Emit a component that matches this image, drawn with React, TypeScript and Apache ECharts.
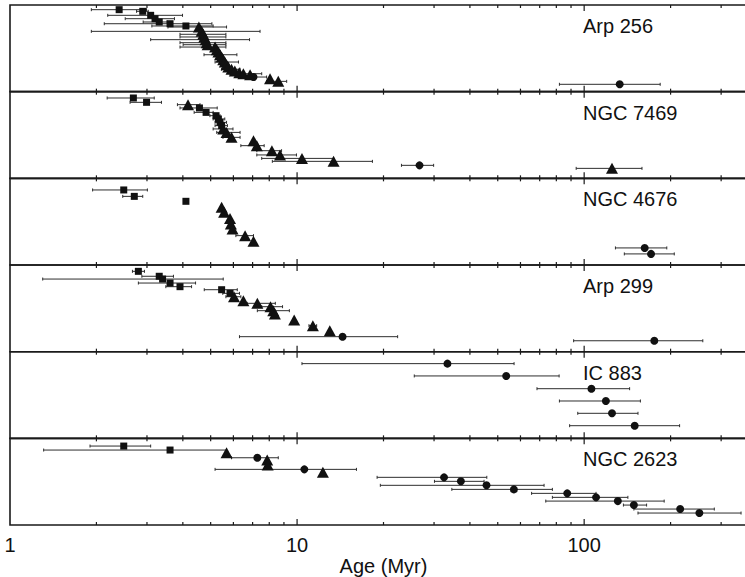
import React, { useEffect, useRef } from 'react';
import * as echarts from 'echarts';

// [age (Myr), error low, error high, row position (0 top .. 100 bottom), marker]
type P = [number, number | null, number | null, number, string];

const arp256: P[] = [
  [2.40, 1.92, 2.99, 5.4, 's'],
  [2.90, 2.76, 3.03, 7.3, 's'],
  [3.09, 2.19, 3.99, 11.9, 's'],
  [3.20, 2.52, 3.74, 15.8, 's'],
  [3.31, 2.91, 3.53, 19.6, 's'],
  [3.61, 2.13, 5.05, 21.6, 's'],
  [4.10, 3.12, 5.10, 24.2, 's'],
  [4.55, 3.55, 5.68, 25.4, 't'],
  [4.65, 1.92, 7.43, 30.4, 't'],
  [4.71, 3.91, 5.65, 33.8, 't'],
  [4.75, 3.91, 5.65, 36.9, 't'],
  [4.80, 3.09, 6.83, 40.0, 't'],
  [4.84, 3.91, 5.65, 43.5, 't'],
  [4.88, 4.01, 5.65, 45.8, 't'],
  [5.18, 3.91, 5.65, 48.5, 't'],
  [5.25, null, null, 51.6, 't'],
  [5.32, null, null, 54.2, 't'],
  [5.39, 4.74, 6.17, 57.4, 't'],
  [5.46, null, null, 60.0, 't'],
  [5.53, null, null, 63.1, 't'],
  [5.60, 5.18, 6.25, 65.8, 't'],
  [5.68, null, null, 68.9, 't'],
  [5.76, null, null, 71.6, 't'],
  [5.91, 5.46, 6.33, 74.2, 't'],
  [6.07, null, null, 76.2, 't'],
  [6.29, null, null, 78.1, 't'],
  [6.50, 5.84, 7.53, 79.3, 't'],
  [6.86, null, null, 80.4, 't'],
  [8.05, null, null, 85.0, 't'],
  [8.60, 7.83, 9.20, 88.1, 't'],
  [7.05, 6.33, 7.83, 83.1, 'c'],
  [133, 82, 184, 91.5, 'c'],
];

const ngc7469: P[] = [
  [2.69, 2.18, 3.18, 7.3, 's'],
  [2.99, 2.62, 3.37, 12.3, 's'],
  [4.17, 3.83, 4.59, 15.0, 't'],
  [4.57, 3.91, 5.27, 18.8, 's'],
  [4.82, 4.38, 5.10, 23.9, 's'],
  [5.22, 4.97, 5.39, 27.7, 's'],
  [5.32, 5.10, 5.60, 31.5, 's'],
  [5.39, 5.18, 5.68, 35.4, 's'],
  [5.46, 5.18, 5.72, 39.2, 's'],
  [5.53, 5.10, 5.98, 43.0, 't'],
  [5.68, 5.25, 6.33, 47.0, 't'],
  [5.91, 5.52, 6.33, 52.7, 't'],
  [7.05, null, null, 56.5, 't'],
  [7.24, 6.37, 7.68, 62.3, 't'],
  [8.17, 7.24, 8.83, 68.1, 't'],
  [8.72, 7.24, 9.95, 73.0, 't'],
  [10.4, 7.53, 13.4, 77.0, 't'],
  [13.4, 8.2, 18.3, 80.4, 't'],
  [26.7, 23.1, 29.9, 85.0, 'c'],
  [125, 93.8, 159, 88.5, 't'],
];

const ngc4676: P[] = [
  [2.49, 1.94, 3.01, 13.4, 's'],
  [2.71, 2.47, 2.90, 20.8, 's'],
  [4.10, null, null, 26.5, 's'],
  [5.46, null, null, 33.5, 't'],
  [5.57, null, null, 39.2, 't'],
  [5.84, null, null, 46.2, 't'],
  [5.88, null, null, 52.6, 't'],
  [5.96, null, null, 58.4, 't'],
  [6.59, 6.12, 7.05, 66.1, 't'],
  [7.05, null, null, 72.7, 't'],
  [162.5, 128.5, 194, 80.3, 'c'],
  [171, 138, 206, 87.2, 'c'],
];

const arp299: P[] = [
  [2.80, 2.67, 2.94, 7.3, 's'],
  [3.31, 2.88, 3.71, 13.0, 's'],
  [3.40, 1.30, 5.53, 16.2, 's'],
  [3.61, 2.80, 4.43, 20.8, 's'],
  [3.91, 3.49, 4.29, 25.0, 's'],
  [5.46, 4.75, 6.19, 28.5, 's'],
  [5.84, 5.51, 6.30, 32.7, 's'],
  [6.03, 5.65, 6.37, 36.6, 't'],
  [6.50, null, null, 41.2, 't'],
  [7.27, 6.70, 8.40, 44.2, 't'],
  [8.08, 7.53, 8.90, 48.1, 't'],
  [8.26, 7.27, 9.40, 52.7, 't'],
  [8.37, null, null, 56.5, 't'],
  [9.77, null, null, 63.5, 't'],
  [11.35, 11.0, 11.7, 70.0, 't'],
  [13.0, null, null, 75.8, 't'],
  [14.4, 6.3, 22.4, 82.7, 'c'],
  [175.5, 91.9, 259, 87.4, 'c'],
];

const ic883: P[] = [
  [33.4, 10.4, 57, 13.8, 'c'],
  [53.5, 25.6, 81.8, 28.0, 'c'],
  [106, 68.5, 144, 42.7, 'c'],
  [119, 82, 157, 56.9, 'c'],
  [125, 95, 154, 71.1, 'c'],
  [150, 89, 215, 85.4, 'c'],
];

const ngc2623: P[] = [
  [2.49, 1.90, 3.09, 8.9, 's'],
  [3.61, 1.31, 5.68, 13.5, 's'],
  [5.68, null, null, 16.6, 't'],
  [7.27, 5.91, 8.60, 22.4, 'c'],
  [7.87, null, null, 25.0, 't'],
  [7.90, null, null, 30.8, 't'],
  [10.6, 5.18, 16.1, 35.8, 'c'],
  [12.3, null, null, 39.2, 't'],
  [32.5, 19.0, 45.8, 45.0, 'c'],
  [37.2, 30.1, 44.8, 49.6, 'c'],
  [45.7, 19.5, 72.5, 54.2, 'c'],
  [56.9, 34.6, 77.5, 58.9, 'c'],
  [87.3, 65.6, 110, 63.5, 'c'],
  [110, 77.5, 142, 68.1, 'c'],
  [131, 73.5, 190, 72.4, 'c'],
  [149, 137, 165, 77.0, 'c'],
  [216, 149, 284, 81.6, 'c'],
  [252, 154, 352, 86.2, 'c'],
];

const panelNames = ['Arp 256', 'NGC 7469', 'NGC 4676', 'Arp 299', 'IC 883', 'NGC 2623'];
const panelData = [arp256, ngc7469, ngc4676, arp299, ic883, ngc2623];
const minorTicks = [2, 3, 4, 5, 6, 7, 8, 9, 20, 30, 40, 50, 60, 70, 80, 90, 200, 300];
const majorTicks = [10, 100];
const xMin = 1;
const xMax = 400;

const FONT = "'Liberation Sans', Arial, sans-serif";
const INK = '#111';

export default function App() {
  const ref = useRef<HTMLDivElement>(null);
  useEffect(() => {
    if (!ref.current) return;
    const chart = echarts.init(ref.current, undefined, { renderer: 'svg' });
    const TOP = 5;
    const H = 86.67;
    const LEFT = 10;
    const W = 747;
    const n = panelData.length;

    const grid: any[] = [];
    const xAxis: any[] = [];
    const yAxis: any[] = [];
    const series: any[] = [];
    const graphic: any[] = [];

    const markerStyle: Record<string, any> = {
      s: { symbol: 'rect', symbolSize: 7 },
      t: { symbol: 'triangle', symbolSize: [12, 11] },
      c: { symbol: 'circle', symbolSize: 8 },
    };

    panelData.forEach((pts, i) => {
      const last = i === n - 1;
      grid.push({
        left: LEFT, width: W, top: TOP + i * H, height: H,
        show: true, borderColor: '#1a1a1a', borderWidth: 1.6,
      });
      xAxis.push({
        type: 'log', logBase: 10, gridIndex: i, min: xMin, max: xMax,
        axisLine: { show: false }, axisTick: { show: false }, splitLine: { show: false },
        axisLabel: {
          show: last, color: INK, fontSize: 20, fontFamily: FONT, margin: 10,
          showMaxLabel: false,
        },
        name: last ? 'Age (Myr)' : '',
        nameLocation: 'middle', nameGap: 31,
        nameTextStyle: { color: INK, fontSize: 20, fontFamily: FONT },
      });
      yAxis.push({ type: 'value', gridIndex: i, min: 0, max: 100, inverse: true, show: false });

      // ticks
      const tickData = [
        ...minorTicks.map((v) => [v, 0, 0]),
        ...majorTicks.map((v) => [v, 0, 1]),
      ];
      series.push({
        type: 'custom', xAxisIndex: i, yAxisIndex: i, silent: true,
        data: tickData, encode: { x: 0, y: 1 },
        renderItem: (params: any, api: any) => {
          const v = api.value(0);
          const len = api.value(2) ? 6 : 3;
          const t = api.coord([v, 0]);
          const b = api.coord([v, 100]);
          const st = { stroke: '#1a1a1a', lineWidth: 1.2 };
          return {
            type: 'group', children: [
              { type: 'line', shape: { x1: t[0], y1: t[1], x2: t[0], y2: t[1] + len }, style: st },
              { type: 'line', shape: { x1: b[0], y1: b[1], x2: b[0], y2: b[1] - len }, style: st },
            ],
          };
        },
      });

      // error bars
      const errs = pts.filter((p) => p[1] != null && p[2] != null).map((p) => [p[0], p[1], p[2], p[3]]);
      series.push({
        type: 'custom', xAxisIndex: i, yAxisIndex: i, silent: true, z: 2,
        data: errs, encode: { x: [1, 2], y: 3 },
        renderItem: (params: any, api: any) => {
          const y = api.value(3);
          const a = api.coord([api.value(1), y]);
          const b = api.coord([api.value(2), y]);
          const st = { stroke: '#2e2e2e', lineWidth: 1 };
          return {
            type: 'group', children: [
              { type: 'line', shape: { x1: a[0], y1: a[1], x2: b[0], y2: b[1] }, style: st },
              { type: 'line', shape: { x1: a[0], y1: a[1] - 1.5, x2: a[0], y2: a[1] + 1.5 }, style: st },
              { type: 'line', shape: { x1: b[0], y1: b[1] - 1.5, x2: b[0], y2: b[1] + 1.5 }, style: st },
            ],
          };
        },
      });

      // markers
      ['s', 't', 'c'].forEach((m) => {
        const d = pts.filter((p) => p[4] === m).map((p) => [p[0], p[3]]);
        if (!d.length) return;
        series.push({
          type: 'scatter', xAxisIndex: i, yAxisIndex: i, z: 3, silent: true,
          data: d, ...markerStyle[m],
          itemStyle: { color: '#111', opacity: 1 },
        });
      });

      graphic.push({
        type: 'text', x: 583, y: TOP + i * H + 21,
        style: {
          text: panelNames[i], fontSize: 20, fontFamily: FONT, fill: INK,
          verticalAlign: 'middle', align: 'left',
        },
      });
    });

    chart.setOption({
      animation: false,
      backgroundColor: '#fff',
      grid, xAxis, yAxis, series, graphic,
    });
    return () => chart.dispose();
  }, []);
  return (
    <div
      ref={ref}
      style={{ position: 'fixed', left: 0, top: 0, width: 762, height: 577, background: '#fff' }}
    />
  );
}
